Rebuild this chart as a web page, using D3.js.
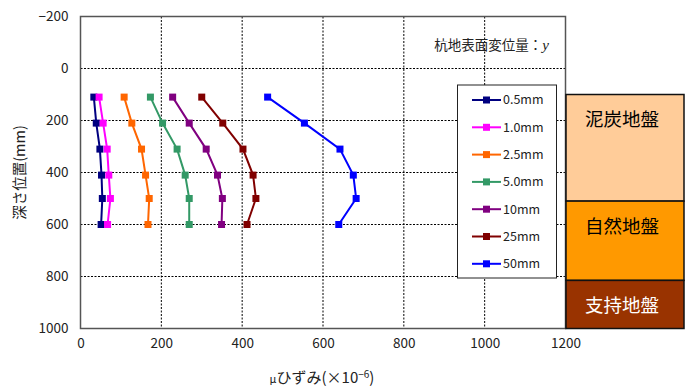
<!DOCTYPE html>
<html>
<head>
<meta charset="utf-8">
<script src="https://cdn.jsdelivr.net/npm/d3@7"></script>
<style>
  body { margin: 0; background: #fff; }
  text { font-family: "Noto Sans CJK JP", sans-serif; }
</style>
</head>
<body>
<div id="chart"></div>
<script>
// depths of the gauges (mm)
const depths = [110, 210, 310, 410, 500, 600];

// strain per displacement level
const seriesNames = ['0.5mm', '1.0mm', '2.5mm', '5.0mm', '10mm', '25mm', '50mm'];
const s05 = [33, 39, 48, 52, 54, 51];
const s10 = [46, 56, 66, 70, 74, 67];
const s25 = [108, 127, 151, 161, 170, 167];
const s50 = [173, 203, 239, 259, 269, 269];
const s100 = [228, 269, 311, 339, 351, 349];
const s250 = [300, 352, 402, 427, 434, 412];
const s500 = [463, 554, 642, 675, 682, 639];
const seriesValues = [s05, s10, s25, s50, s100, s250, s500];
const seriesColors = ['#000080', '#ff00ff', '#ff6600', '#339966', '#800080', '#800000', '#0000ff'];

const xTicks = [0, 200, 400, 600, 800, 1000, 1200];
const yTicks = [-200, 0, 200, 400, 600, 800, 1000];

// ground layers (depth from, to)
const layerNames = ['泥炭地盤', '自然地盤', '支持地盤'];
const layerTop = [100, 510, 815];
const layerBottom = [510, 815, 1000];
const layerFill = ['#ffcc99', '#ff9900', '#993300'];
const layerText = ['#000', '#000', '#fff'];

const width = 688, height = 392;
const svg = d3.select('#chart').append('svg')
    .attr('width', width)
    .attr('height', height);

const x = d3.scaleLinear().domain([0, 1200]).range([80.5, 565.5]);
const y = d3.scaleLinear().domain([-200, 1000]).range([16.5, 328.5]);

// grid
svg.append('g')
  .selectAll('line')
  .data(yTicks.slice(1, -1))
  .enter().append('line')
    .attr('x1', x(0)).attr('x2', x(1200))
    .attr('y1', d => y(d)).attr('y2', d => y(d))
    .attr('stroke', '#000')
    .attr('stroke-dasharray', '2,1.5');

svg.append('g')
  .selectAll('line')
  .data(xTicks.slice(1, -1))
  .enter().append('line')
    .attr('x1', d => x(d)).attr('x2', d => x(d))
    .attr('y1', y(-200)).attr('y2', y(1000))
    .attr('stroke', '#000')
    .attr('stroke-dasharray', '2,1.5');

// plot frame
svg.append('rect')
    .attr('x', x(0)).attr('y', y(-200))
    .attr('width', x(1200) - x(0))
    .attr('height', y(1000) - y(-200))
    .attr('fill', 'none')
    .attr('stroke', '#555')
    .attr('stroke-width', 1.5);

// axes
const yAxis = svg.append('g')
    .attr('transform', `translate(${x(0)},0)`)
    .call(d3.axisLeft(y).tickValues(yTicks).tickFormat(d3.format('d')).tickSize(0).tickPadding(12));
yAxis.select('.domain').remove();
yAxis.selectAll('text')
    .attr('font-size', 13.5)
    .attr('fill', '#222')
    .style('font-family', '"Noto Sans CJK JP", sans-serif');

const xAxis = svg.append('g')
    .attr('transform', `translate(0,${y(1000)})`)
    .call(d3.axisBottom(x).tickValues(xTicks).tickFormat(d3.format('d')).tickSize(0).tickPadding(10));
xAxis.select('.domain').remove();
xAxis.selectAll('text')
    .attr('font-size', 13.5)
    .attr('fill', '#222')
    .style('font-family', '"Noto Sans CJK JP", sans-serif');

// axis titles
svg.append('text')
    .attr('transform', `translate(25,${(y(-200) + y(1000)) / 2}) rotate(-90)`)
    .attr('text-anchor', 'middle')
    .attr('font-size', 14.5)
    .attr('fill', '#222')
    .text('深さ位置(mm)');

const xTitle = svg.append('text')
    .attr('x', 322)
    .attr('y', 383)
    .attr('text-anchor', 'middle')
    .attr('font-size', 15)
    .attr('fill', '#222');
xTitle.append('tspan').attr('font-size', 11).text('μ');
xTitle.append('tspan').text('ひずみ(×10');
xTitle.append('tspan').attr('font-size', 10).attr('dy', -5).text('−6');
xTitle.append('tspan').attr('dy', 5).text(')');

// annotation
const note = svg.append('text')
    .attr('x', 549)
    .attr('y', 50)
    .attr('text-anchor', 'end')
    .attr('font-size', 13.5)
    .attr('fill', '#222');
note.append('tspan').text('杭地表面変位量：');
note.append('tspan')
    .attr('font-style', 'italic')
    .style('font-family', '"Liberation Serif", serif')
    .attr('font-size', 15)
    .text('y');

// series
const line = d3.line()
    .x(d => x(d[0]))
    .y(d => y(d[1]));

seriesValues.forEach((vals, i) => {
    const pts = vals.map((v, j) => [v, depths[j]]);
    const g = svg.append('g');
    g.append('path')
        .datum(pts)
        .attr('d', line)
        .attr('fill', 'none')
        .attr('stroke', seriesColors[i])
        .attr('stroke-width', 2);
    g.selectAll('rect')
        .data(pts)
        .enter().append('rect')
          .attr('x', d => x(d[0]) - 3.5)
          .attr('y', d => y(d[1]) - 3.5)
          .attr('width', 7)
          .attr('height', 7)
          .attr('fill', seriesColors[i]);
});

// legend
const legend = svg.append('g');
legend.append('rect')
    .attr('x', 457.5).attr('y', 85)
    .attr('width', 99).attr('height', 193)
    .attr('fill', '#fff')
    .attr('stroke', '#222')
    .attr('stroke-width', 1);

seriesNames.forEach((name, i) => {
    const ly = 100 + i * 27.3;
    legend.append('line')
        .attr('x1', 472).attr('x2', 501)
        .attr('y1', ly).attr('y2', ly)
        .attr('stroke', seriesColors[i])
        .attr('stroke-width', 2);
    legend.append('rect')
        .attr('x', 483).attr('y', ly - 3.5)
        .attr('width', 7).attr('height', 7)
        .attr('fill', seriesColors[i]);
    legend.append('text')
        .attr('x', 503)
        .attr('y', ly)
        .attr('dy', '0.35em')
        .attr('font-size', 12.5)
        .attr('fill', '#222')
        .text(name);
});

// ground layers
const layers = svg.append('g');
layerNames.forEach((name, i) => {
    layers.append('rect')
        .attr('x', 566).attr('y', y(layerTop[i]))
        .attr('width', 118)
        .attr('height', y(layerBottom[i]) - y(layerTop[i]))
        .attr('fill', layerFill[i])
        .attr('stroke', '#111')
        .attr('stroke-width', 1.5);
    layers.append('text')
        .attr('x', 622)
        .attr('y', y(layerTop[i]) + 25)
        .attr('dy', '0.35em')
        .attr('text-anchor', 'middle')
        .attr('font-size', 18.5)
        .attr('fill', layerText[i])
        .text(name);
});
</script>
</body>
</html>
